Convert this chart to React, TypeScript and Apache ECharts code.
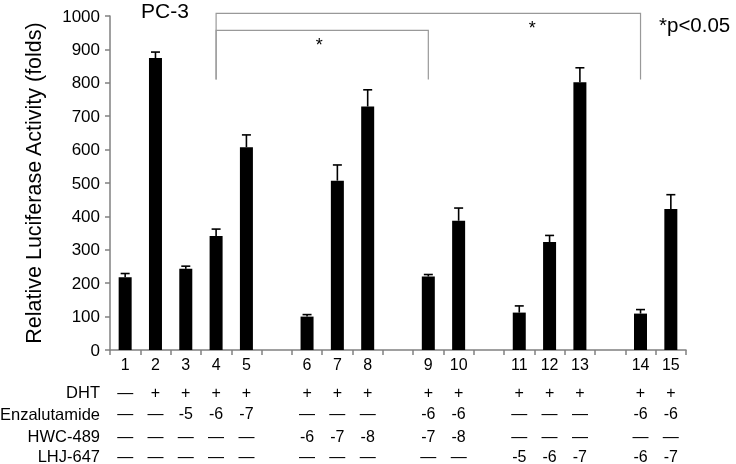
import React, { useEffect, useRef } from "react";
import * as echarts from "echarts";

const categories = ["1", "2", "3", "4", "5", "", "6", "7", "8", "", "9", "10", "", "11", "12", "13", "", "14", "15"];
const means = [218, 874, 243, 341, 607, null, 100, 507, 729, null, 220, 387, null, 112, 323, 802, null, 109, 422];
const errors = [11, 18, 8, 21, 37, null, 6, 47, 50, null, 6, 38, null, 20, 20, 43, null, 12, 43];

const rowNames = ["DHT", "Enzalutamide", "HWC-489", "LHJ-647"];
const dhtRow = ["—", "+", "+", "+", "+", "", "+", "+", "+", "", "+", "+", "", "+", "+", "+", "", "+", "+"];
const enzaRow = ["—", "—", "-5", "-6", "-7", "", "—", "—", "—", "", "-6", "-6", "", "—", "—", "—", "", "-6", "-6"];
const hwcRow = ["—", "—", "—", "—", "—", "", "-6", "-7", "-8", "", "-7", "-8", "", "—", "—", "—", "", "—", "—"];
const lhjRow = ["—", "—", "—", "—", "—", "", "—", "—", "—", "", "—", "—", "", "-5", "-6", "-7", "", "-6", "-7"];

const bracketFrom = ["4", "4"];
const bracketTo = ["14", "9"];
const bracketTop = [1008, 957];
const bracketBottom = [810, 810];
const starPos = [13.43, 6.4];
const starY = [975, 925];

const FONT = "'Liberation Sans', Arial, Helvetica, sans-serif";

export default function App() {
  const ref = useRef<HTMLDivElement>(null);
  useEffect(() => {
    if (!ref.current) return;
    const chart = echarts.init(ref.current, undefined, { renderer: "svg" });
    const tableRows = [dhtRow, enzaRow, hwcRow, lhjRow];
    const rowMargins = [34, 55, 78, 98];
    const errData = means
      .map((m, i) => (m == null ? null : [i, m, errors[i]]))
      .filter((d) => d != null);
    const bracketData = bracketFrom.map((f, i) => [
      categories.indexOf(f),
      categories.indexOf(bracketTo[i]),
      bracketTop[i],
      bracketBottom[i],
      starPos[i],
      starY[i],
    ]);
    const option: any = {
      animation: false,
      textStyle: { fontFamily: FONT },
      grid: { left: 110, right: 50, top: 16, bottom: 114, containLabel: false },
      xAxis: [
        {
          type: "category",
          data: categories,
          position: "bottom",
          axisLine: { lineStyle: { color: "#808080", width: 1.5 } },
          axisTick: { show: true, interval: 0, length: 5, lineStyle: { color: "#808080", width: 1.5 } },
          axisLabel: { interval: 0, margin: 6, fontSize: 16, color: "#000", fontFamily: FONT },
        },
        ...tableRows.map((row, k) => ({
          type: "category",
          data: row,
          position: "bottom",
          gridIndex: 0,
          axisLine: { show: false },
          axisTick: { show: false },
          axisLabel: { interval: 0, margin: rowMargins[k], fontSize: 16, color: "#000", fontFamily: FONT },
        })),
      ],
      yAxis: {
        type: "value",
        min: 0,
        max: 1000,
        interval: 100,
        name: "Relative Luciferase Activity (folds)",
        nameLocation: "middle",
        nameGap: 65,
        nameTextStyle: { fontSize: 21.5, color: "#000", fontFamily: FONT },
        splitLine: { show: false },
        axisLine: { show: true, lineStyle: { color: "#808080", width: 1.5 } },
        axisTick: { show: true, length: 5, lineStyle: { color: "#808080", width: 1.5 } },
        axisLabel: { fontSize: 17, color: "#000", margin: 10, fontFamily: FONT, formatter: (v: number) => String(v) },
      },
      graphic: [
        ...rowNames.map((n, k) => ({
          type: "text",
          x: 100,
          y: [392, 414, 436, 456][k],
          style: { text: n, fill: "#000", font: `16.5px ${FONT}`, textAlign: "right", textVerticalAlign: "middle" },
        })),
        {
          type: "text",
          x: 141,
          y: 10,
          style: { text: "PC-3", fill: "#000", font: `21px ${FONT}`, textAlign: "left", textVerticalAlign: "middle" },
        },
        {
          type: "text",
          x: 659,
          y: 24,
          style: { text: "*p<0.05", fill: "#000", font: `20.5px ${FONT}`, textAlign: "left", textVerticalAlign: "middle" },
        },
      ],
      series: [
        {
          type: "bar",
          xAxisIndex: 0,
          data: means.map((m) => (m == null ? "-" : m)),
          barWidth: 13,
          itemStyle: { color: "#000" },
        },
        {
          type: "custom",
          xAxisIndex: 0,
          data: errData,
          clip: false,
          renderItem: (params: any, api: any) => {
            const x = api.value(0);
            const v = api.value(1);
            const e = api.value(2);
            const p0 = api.coord([x, v]);
            const p1 = api.coord([x, v + e]);
            const st = { stroke: "#000", lineWidth: 1.6 };
            return {
              type: "group",
              children: [
                { type: "line", shape: { x1: p0[0], y1: p0[1], x2: p1[0], y2: p1[1] }, style: st },
                { type: "line", shape: { x1: p1[0] - 4.5, y1: p1[1], x2: p1[0] + 4.5, y2: p1[1] }, style: st },
              ],
            };
          },
        },
        {
          type: "custom",
          xAxisIndex: 0,
          data: bracketData,
          clip: false,
          renderItem: (params: any, api: any) => {
            const a = api.value(0);
            const b = api.value(1);
            const top = api.value(2);
            const bottom = api.value(3);
            const sp = api.value(4);
            const sy = api.value(5);
            const pa = api.coord([a, top]);
            const pab = api.coord([a, bottom]);
            const pb = api.coord([b, top]);
            const pbb = api.coord([b, bottom]);
            const lo = Math.floor(sp);
            const hi = lo + 1;
            const cl = api.coord([lo, sy]);
            const ch = api.coord([hi, sy]);
            const sx = cl[0] + (ch[0] - cl[0]) * (sp - lo);
            return {
              type: "group",
              children: [
                {
                  type: "polyline",
                  shape: { points: [pab, pa, pb, pbb] },
                  style: { stroke: "#999", lineWidth: 1.2, fill: "none" },
                },
                {
                  type: "text",
                  x: sx,
                  y: cl[1] + 4,
                  style: { text: "*", fill: "#000", font: `18px ${FONT}`, textAlign: "center", textVerticalAlign: "middle" },
                },
              ],
            };
          },
        },
      ],
    };
    chart.setOption(option);
    return () => chart.dispose();
  }, []);
  return <div ref={ref} style={{ position: "fixed", left: 0, top: 0, width: 736, height: 464 }} />;
}
